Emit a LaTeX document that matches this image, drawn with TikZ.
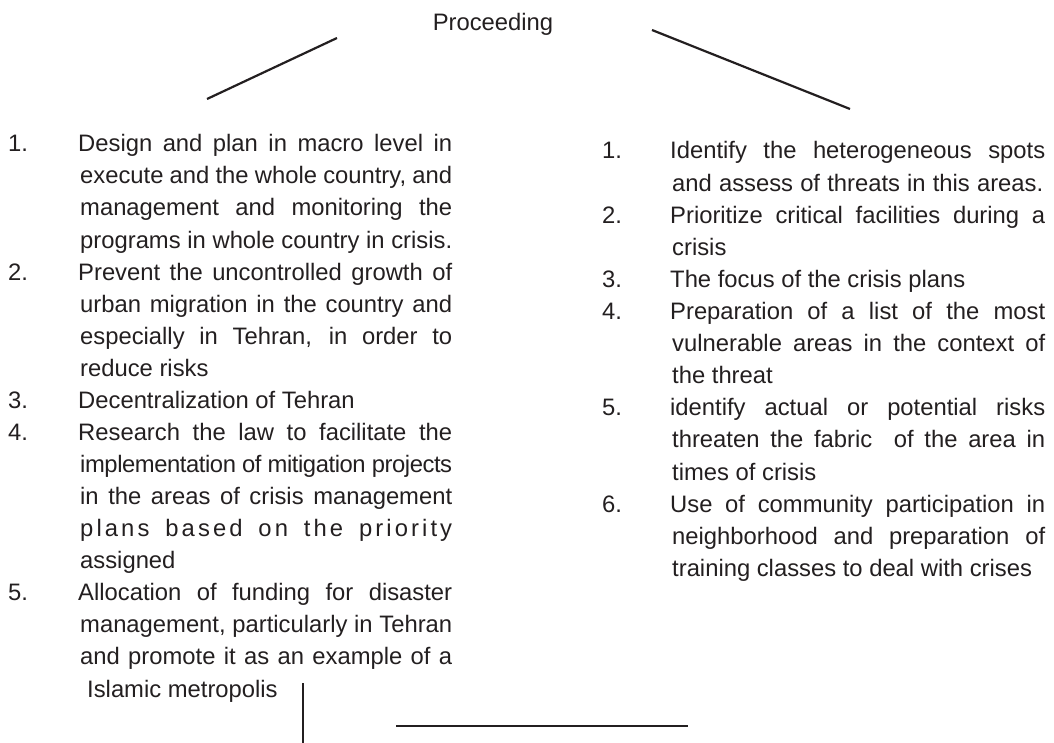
\documentclass[tikz,border=0pt]{standalone}
\usepackage{fontspec}
\setmainfont{Liberation Sans}
\definecolor{ink}{HTML}{231F20}
\newcommand\JL[2]{\makebox[#1pt][s]{#2}}
\begin{document}
\begin{tikzpicture}[x=1pt,y=-1pt,
  txt/.style={anchor=base west, inner sep=0pt, text=ink, font=\fontsize{23.8}{32}\selectfont},
  rule/.style={draw=ink, line width=2.2pt}]
\useasboundingbox (0,0) rectangle (1054,743);

% title
\node[txt, anchor=base] (proc) at (493,31) {Proceeding};

% connectors (free-standing strokes)
\coordinate (la) at (337,38);
\coordinate (lb) at (207,99);
\coordinate (ra) at (652,30);
\coordinate (rb) at (850,109);
\coordinate (va) at (303,683);
\coordinate (vb) at (303,743);
\coordinate (ha) at (396,726);
\coordinate (hb) at (688,726);
\draw[rule] (la) -- (lb);
\draw[rule] (ra) -- (rb);
\draw[rule] (va) -- (vb);
\draw[rule] (ha) -- (hb);

% left column
\node[txt] (Ln1) at (8,152) {1.};
\node[txt] (L1a) at (78,152) {\JL{374}{Design and plan in macro level in}};
\node[txt] (L1b) at (80,184) {\JL{372}{execute and the whole country, and}};
\node[txt] (L1c) at (80,216) {\JL{372}{management and monitoring the}};
\node[txt] (L1d) at (80,248) {\JL{372}{programs in whole country in crisis.}};
\node[txt] (Ln2) at (8,280) {2.};
\node[txt] (L2a) at (78,280) {\JL{374}{Prevent the uncontrolled growth of}};
\node[txt] (L2b) at (80,312) {\JL{372}{urban migration in the country and}};
\node[txt] (L2c) at (80,344) {\JL{372}{especially in Tehran, in order to}};
\node[txt] (L2d) at (80,376) {reduce risks};
\node[txt] (Ln3) at (8,408) {3.};
\node[txt] (L3a) at (78,408) {Decentralization of Tehran};
\node[txt] (Ln4) at (8,440) {4.};
\node[txt] (L4a) at (78,440) {\JL{374}{Research the law to facilitate the}};
\node[txt] (L4b) at (80,472) {\JL{372}{\addfontfeature{LetterSpace=-1.8}implementation of mitigation projects}};
\node[txt] (L4c) at (80,504) {\JL{372}{in the areas of crisis management}};
\node[txt] (L4d) at (80,536) {\JL{372}{\addfontfeature{LetterSpace=13}plans based on the priority}};
\node[txt] (L4e) at (80,568) {assigned};
\node[txt] (Ln5) at (8,600) {5.};
\node[txt] (L5a) at (78,600) {\JL{374}{Allocation of funding for disaster}};
\node[txt] (L5b) at (80,632) {\JL{372}{management, particularly in Tehran}};
\node[txt] (L5c) at (80,664) {\JL{372}{and promote it as an example of a}};
\node[txt] (L5d) at (87,697) {Islamic metropolis};

% right column
\node[txt] (Rn1) at (602,159) {1.};
\node[txt] (R1a) at (670,159) {\JL{375}{Identify the heterogeneous spots}};
\node[txt] (R1b) at (672,191.1) {\JL{371}{and assess of threats in this areas.}};
\node[txt] (Rn2) at (602,223.2) {2.};
\node[txt] (R2a) at (670,223.2) {\JL{375}{Prioritize critical facilities during a}};
\node[txt] (R2b) at (672,255.3) {crisis};
\node[txt] (Rn3) at (602,287.4) {3.};
\node[txt] (R3a) at (670,287.4) {The focus of the crisis plans};
\node[txt] (Rn4) at (602,319.5) {4.};
\node[txt] (R4a) at (670,319.5) {\JL{375}{Preparation of a list of the most}};
\node[txt] (R4b) at (672,351.6) {\JL{373}{vulnerable areas in the context of}};
\node[txt] (R4c) at (672,383.7) {the threat};
\node[txt] (Rn5) at (602,415.8) {5.};
\node[txt] (R5a) at (670,415.8) {\JL{375}{identify actual or potential risks}};
\node[txt] (R5b) at (672,447.9) {\JL{373}{threaten the fabric\ \ of the area in}};
\node[txt] (R5c) at (672,480) {times of crisis};
\node[txt] (Rn6) at (602,512.1) {6.};
\node[txt] (R6a) at (670,512.1) {\JL{375}{Use of community participation in}};
\node[txt] (R6b) at (672,544.2) {\JL{373}{neighborhood and preparation of}};
\node[txt] (R6c) at (672,576.3) {training classes to deal with crises};
\end{tikzpicture}
\end{document}
